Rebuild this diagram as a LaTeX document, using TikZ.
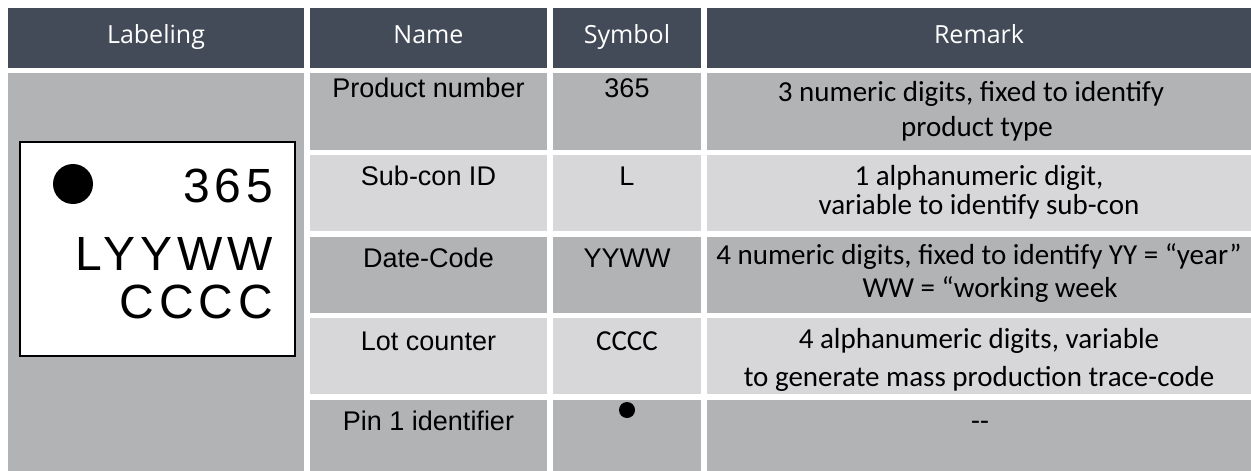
\documentclass[tikz,border=0pt]{standalone}
\usepackage{fontspec}
\setmainfont{Liberation Sans}
\newfontfamily\hdrfont{Open Sans}
\newfontfamily\remfont{Carlito}
\newfontfamily\markfont[LetterSpace=10]{Liberation Sans}
\definecolor{hdrcol}{RGB}{67,75,88}
\definecolor{dkgray}{RGB}{178,179,181}
\definecolor{ltgray}{RGB}{215,215,217}
\begin{document}
\begin{tikzpicture}[x=1pt,y=-1pt,
  cell/.style={draw=none,inner sep=0pt,outer sep=0pt,anchor=north west},
  htext/.style={font=\hdrfont\fontsize{25}{30}\selectfont,text=white,anchor=base,inner sep=0pt},
  ntext/.style={font=\fontsize{27}{32}\selectfont,anchor=base,inner sep=0pt},
  rtext/.style={font=\remfont\fontsize{29}{34}\selectfont,anchor=base,inner sep=0pt},
  mtext/.style={font=\markfont\fontsize{48}{56}\selectfont,anchor=base east,inner sep=0pt}]
\useasboundingbox (0,0) rectangle (1251,471);
% header cells
\node[cell,fill=hdrcol,minimum width=296pt,minimum height=60pt] (hL) at (8,8) {};
\node[cell,fill=hdrcol,minimum width=237pt,minimum height=60pt] (hN) at (310,8) {};
\node[cell,fill=hdrcol,minimum width=148pt,minimum height=60pt] (hS) at (553,8) {};
\node[cell,fill=hdrcol,minimum width=544pt,minimum height=60pt] (hR) at (707,8) {};
% labeling column
\node[cell,fill=dkgray,minimum width=296pt,minimum height=398pt] (cL) at (8,73) {};
% body rows
\foreach \i/\y/\h/\c in {1/73/77/dkgray,2/155/76/ltgray,3/237/76/dkgray,4/318/76/ltgray,5/400/71/dkgray}{
  \node[cell,fill=\c,minimum width=237pt,minimum height=\h pt] (n\i) at (310,\y) {};
  \node[cell,fill=\c,minimum width=148pt,minimum height=\h pt] (s\i) at (553,\y) {};
  \node[cell,fill=\c,minimum width=544pt,minimum height=\h pt] (r\i) at (707,\y) {};
}
% header texts
\node[htext] (tL) at (156,43) {Labeling};
\node[htext] (tN) at (428.5,43) {Name};
\node[htext] (tS) at (627,43) {Symbol};
\node[htext] (tR) at (979,43) {Remark};
% names
\node[ntext] (tn1) at (428.5,97) {Product number};
\node[ntext] (tn2) at (428.5,185) {Sub-con ID};
\node[ntext] (tn3) at (428.5,267) {Date-Code};
\node[ntext] (tn4) at (428.5,350) {Lot counter};
\node[ntext] (tn5) at (428.5,430) {Pin 1 identifier};
% symbols
\node[ntext] (ts1) at (627,97) {365};
\node[ntext] (ts2) at (627,185) {L};
\node[ntext] (ts3) at (627,267) {YYWW};
\node[rtext] (ts4) at (627,350) {CCCC};
\node[circle,fill=black,minimum size=16pt,inner sep=0pt] (ts5) at (627,410) {};
% remarks
\node[rtext] (tr1a) at (971,101) {3 numeric digits, fixed to identify};
\node[rtext] (tr1b) at (977,136) {product type};
\node[rtext] (tr2a) at (979,185) {1 alphanumeric digit,};
\node[rtext] (tr2b) at (979,214) {variable to identify sub-con};
\node[rtext] (tr3a) at (979,264) {4 numeric digits, fixed to identify YY = “year”};
\node[rtext] (tr3b) at (990,297) {WW = “working week};
\node[rtext] (tr4a) at (979,348) {4 alphanumeric digits, variable};
\node[rtext] (tr4b) at (979,386) {to generate mass production trace-code};
\node[rtext] (tr5) at (980,430) {--};
% marking box
\node[cell,draw=black,line width=2pt,fill=white,minimum width=275pt,minimum height=214pt] (box) at (20,142) {};
\node[circle,fill=black,minimum size=40pt,inner sep=0pt] (pin) at (73,184) {};
\node[mtext] (m1) at (273,202) {365};
\node[mtext] (m2) at (273,270) {LYYWW};
\node[mtext] (m3) at (273,318) {CCCC};
\end{tikzpicture}
\end{document}
